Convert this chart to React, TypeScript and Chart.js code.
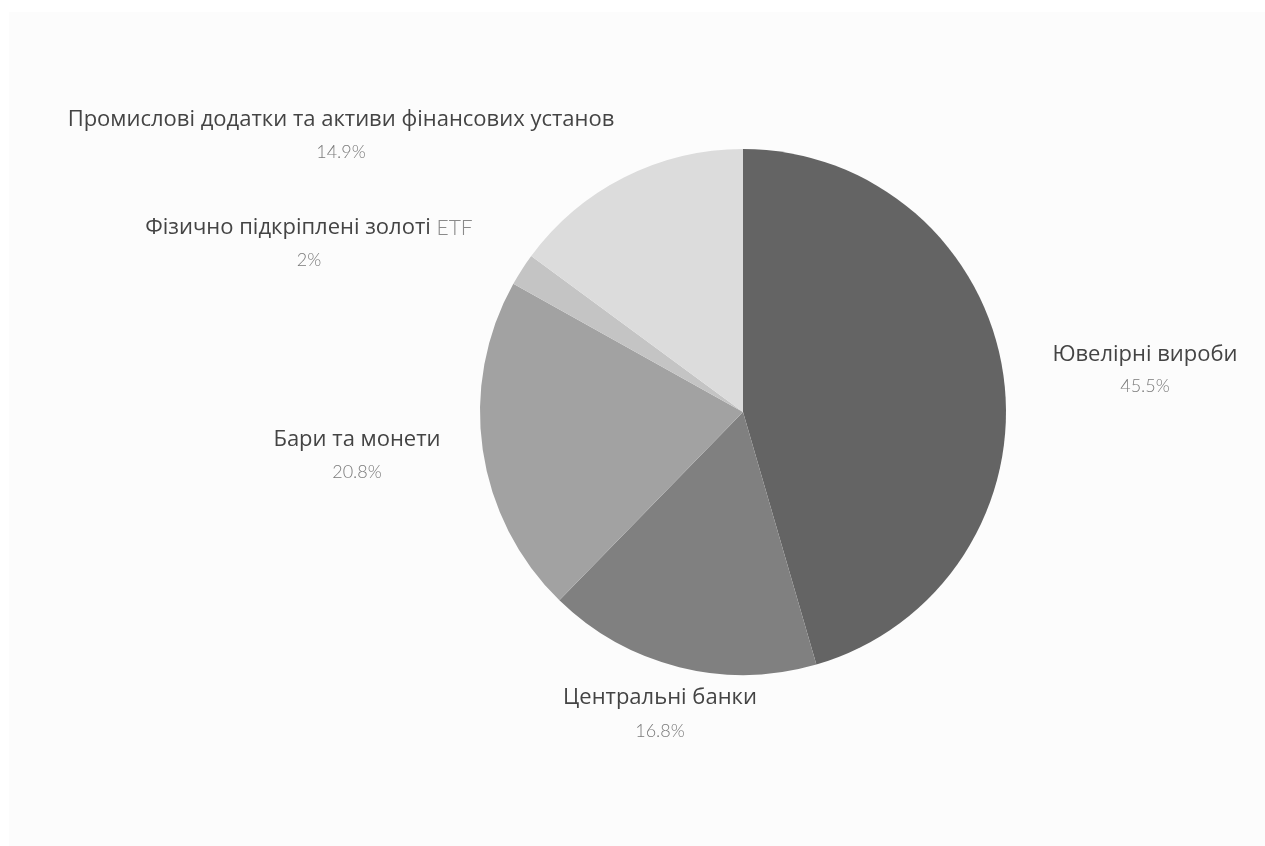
import React, { useEffect, useRef } from "react";
import { Chart, registerables } from "chart.js";

Chart.register(...registerables);

const categories = [
  "Ювелірні вироби",
  "Центральні банки",
  "Бари та монети",
  "Фізично підкріплені золоті ETF",
  "Промислові додатки та активи фінансових установ",
];
const shares = [45.5, 16.8, 20.8, 2, 14.9];
const shareLabels = ["45.5%", "16.8%", "20.8%", "2%", "14.9%"];
const sliceColors = ["#646464", "#808080", "#a2a2a2", "#c4c4c4", "#dcdcdc"];

// label placement relative to pie centre (text centres): [dx, nameDy, pctDy]
const labelOffsets: [number, number, number][] = [
  [402, -57, -26],
  [-83, 286, 319],
  [-386, 28, 60],
  [-434, -184, -152],
  [-402, -292, -260],
];

const NAME_FONT = '22px "Open Sans", "Noto Sans", sans-serif';
const LIGHT_FONT = '300 18px Lato, "Open Sans", sans-serif';
const LATIN_FONT = '300 21px Lato, "Open Sans", sans-serif';

function drawName(ctx: CanvasRenderingContext2D, text: string, x: number, y: number) {
  // split into runs: latin letters rendered in a lighter face (as in the reference)
  const runs: { t: string; latin: boolean }[] = [];
  for (const ch of text) {
    const latin = /[A-Za-z]/.test(ch);
    const last = runs[runs.length - 1];
    if (last && last.latin === latin) last.t += ch;
    else runs.push({ t: ch, latin });
  }
  let total = 0;
  const widths = runs.map((r) => {
    ctx.font = r.latin ? LATIN_FONT : NAME_FONT;
    const w = ctx.measureText(r.t).width;
    total += w;
    return w;
  });
  let cur = x - total / 2;
  ctx.textAlign = "left";
  runs.forEach((r, i) => {
    ctx.font = r.latin ? LATIN_FONT : NAME_FONT;
    ctx.fillStyle = r.latin ? "#8a8a8a" : "#444444";
    ctx.fillText(r.t, cur, y);
    cur += widths[i];
  });
}

const labelPlugin = {
  id: "outerLabels",
  afterDraw(chart: any) {
    const meta = chart.getDatasetMeta(0);
    if (!meta.data.length) return;
    const arc = meta.data[0];
    const cx = arc.x;
    const cy = arc.y;
    const ctx = chart.ctx;
    ctx.save();
    ctx.textBaseline = "middle";
    meta.data.forEach((_: any, i: number) => {
      const [dx, ny, py] = labelOffsets[i];
      drawName(ctx, categories[i], cx + dx, cy + ny);
      ctx.textAlign = "center";
      ctx.font = LIGHT_FONT;
      ctx.fillStyle = "#7a7a7a";
      ctx.fillText(shareLabels[i], cx + dx, cy + py);
    });
    ctx.restore();
  },
};

export default function App() {
  const ref = useRef<HTMLCanvasElement | null>(null);
  useEffect(() => {
    if (!ref.current) return;
    const chart = new Chart(ref.current, {
      type: "pie",
      data: {
        labels: categories,
        datasets: [
          {
            data: shares,
            backgroundColor: sliceColors,
            borderWidth: 0,
          },
        ],
      },
      options: {
        animation: false,
        responsive: false,
        layout: { padding: { left: 480, right: 259, top: 149, bottom: 171 } },
        plugins: {
          legend: { display: false },
          tooltip: { enabled: false },
        },
      },
      plugins: [labelPlugin],
    });
    return () => chart.destroy();
  }, []);
  return (
    <div style={{ position: "fixed", left: 0, top: 0, width: 1265, height: 846, background: "#ffffff" }}>
      <div style={{ position: "absolute", left: 9, top: 12, right: 0, bottom: 0, background: "#fcfcfc" }} />
      <canvas ref={ref} width={1265} height={846} style={{ position: "absolute", left: 0, top: 0 }} />
    </div>
  );
}
